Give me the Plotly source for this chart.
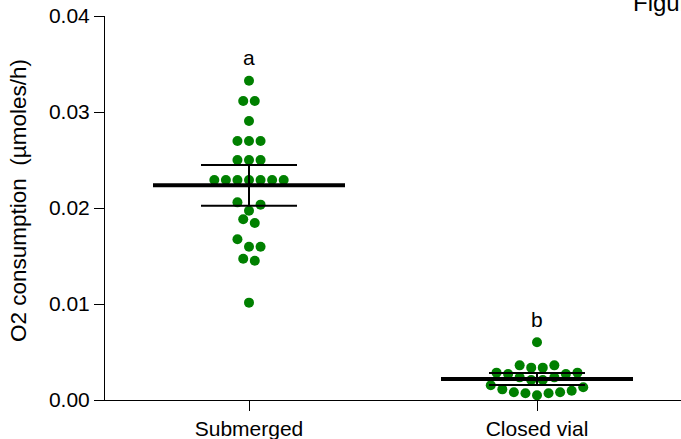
import plotly.graph_objects as go

# ---- data ----
categories = ["Submerged", "Closed vial"]
submerged = [0.03326, 0.03115, 0.03115, 0.02906, 0.02698, 0.02698, 0.02698,
             0.0250, 0.0250, 0.0250,
             0.02292, 0.02292, 0.02292, 0.02292, 0.02292, 0.02292, 0.02292,
             0.02059, 0.02035, 0.01972, 0.01882, 0.01844, 0.01674, 0.01597,
             0.01597, 0.01472, 0.01451, 0.01014]
closed_vial = [0.00601, 0.00361, 0.00361, 0.00337, 0.00337, 0.00285, 0.00285,
               0.00271, 0.00271, 0.00236, 0.00236, 0.00208, 0.00208, 0.00153,
               0.00132, 0.00111, 0.00097, 0.0008, 0.0008, 0.0007, 0.0007, 0.00049]
group_means = [0.02236, 0.00219]
group_errors = [0.00213, 0.00063]
sig_letters = ["a", "b"]
y_ticks = [0.00, 0.01, 0.02, 0.03, 0.04]

# ---- layout constants ----
W, H = 681, 439
ML, MR, MT, MB = 105, 0, 16, 39
XR = [-0.5, 1.5]
YR = [0.0, 0.04]
plot_w = W - ML - MR
plot_h = H - MT - MB
px_per_x = plot_w / (XR[1] - XR[0])
px_per_y = plot_h / (YR[1] - YR[0])
DOT_STEP_PX = 11.56
ROW_THR = 11.0 / px_per_y
GREEN = "#008000"
FONT = "Liberation Sans, Arial, sans-serif"


def swarm_offsets(vals):
    """Row-based beeswarm: rows start at lowest value, contain values within
    one dot height; rows are laid out centre-out in ascending order."""
    n = len(vals)
    order = sorted(range(n), key=lambda i: vals[i])
    offs = [0.0] * n
    i = 0
    while i < n:
        start = vals[order[i]]
        row = [order[i]]
        j = i + 1
        while j < n and vals[order[j]] - start < ROW_THR:
            row.append(order[j])
            j += 1
        k = len(row)
        for r, idx in enumerate(row):
            if k % 2 == 1:
                slot = 0 if r == 0 else ((r + 1) // 2) * (1 if r % 2 == 1 else -1)
            else:
                slot = (r // 2 + 0.5) * (1 if r % 2 == 0 else -1)
            offs[idx] = slot * DOT_STEP_PX / px_per_x
        i = j
    return offs


fig = go.Figure()
groups = [submerged, closed_vial]
for gi, vals in enumerate(groups):
    offs = swarm_offsets(vals)
    fig.add_trace(go.Scatter(
        x=[gi + o for o in offs], y=vals, mode="markers",
        marker=dict(size=10, color=GREEN, line=dict(width=0)),
        showlegend=False, hoverinfo="skip"))

MEAN_HALF = 96 / px_per_x
for gi, (m, e) in enumerate(zip(group_means, group_errors)):
    fig.add_trace(go.Scatter(
        x=[gi], y=[m], mode="markers", marker=dict(size=0.1, color="black", opacity=0),
        error_y=dict(type="data", array=[e], arrayminus=[e], color="black",
                     thickness=2, width=48),
        showlegend=False, hoverinfo="skip"))
    fig.add_trace(go.Scatter(
        x=[gi - MEAN_HALF, gi + MEAN_HALF], y=[m, m], mode="lines",
        line=dict(color="black", width=4), showlegend=False, hoverinfo="skip"))

annotations = []
for gi, (vals, letter) in enumerate(zip(groups, sig_letters)):
    annotations.append(dict(
        x=gi, y=max(vals) + 0.0024, xref="x", yref="y", text=letter,
        showarrow=False, xanchor="center", yanchor="middle",
        font=dict(family=FONT, size=21, color="black")))

annotations.append(dict(
    x=(18 - ML) / plot_w, y=(H - MB - 201) / plot_h, xref="paper", yref="paper",
    text="O2 consumption \u00a0(\u00b5moles/h)", textangle=-90, showarrow=False,
    xanchor="center", yanchor="middle",
    font=dict(family=FONT, size=22.5, color="black")))

annotations.append(dict(
    x=(631 - ML) / plot_w, y=1.0, xref="paper", yref="paper", yshift=-2,
    text="Figure 1", showarrow=False, xanchor="left", yanchor="bottom",
    font=dict(family=FONT, size=24, color="black")))

fig.update_layout(
    width=W, height=H,
    margin=dict(l=ML, r=MR, t=MT, b=MB, pad=0),
    paper_bgcolor="white", plot_bgcolor="white",
    font=dict(family=FONT, size=21, color="black"),
    annotations=annotations,
    xaxis=dict(range=XR, tickvals=[0, 1], ticktext=categories,
               showline=True, linecolor="black", linewidth=1,
               ticks="outside", ticklen=10, tickcolor="black", tickwidth=1,
               showgrid=False, zeroline=False,
               tickfont=dict(family=FONT, size=21, color="black")),
    yaxis=dict(range=YR, tickvals=y_ticks, tickformat=".2f",
               showline=True, linecolor="black", linewidth=1,
               ticks="outside", ticklen=10, tickcolor="black", tickwidth=1,
               showgrid=False, zeroline=False,
               tickfont=dict(family=FONT, size=21, color="black")),
)

fig.write_html("out.html")
